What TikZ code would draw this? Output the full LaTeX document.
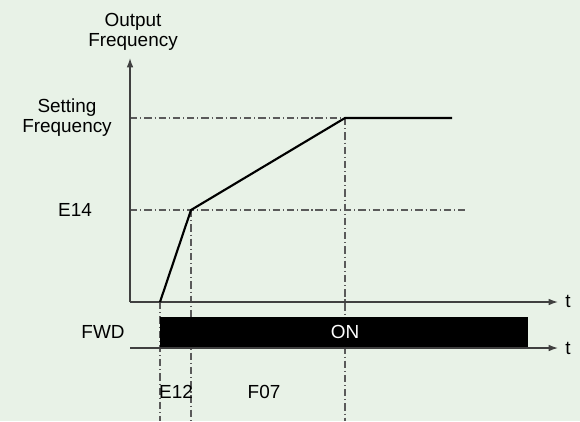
\documentclass[tikz,border=0pt]{standalone}
\usepackage{fontspec}
\setmainfont{Liberation Sans}
\usetikzlibrary{arrows.meta}
\definecolor{bg}{HTML}{E8F2E7}
\definecolor{axis}{HTML}{404040}
\definecolor{guide}{HTML}{5A5A5A}
\begin{document}
\begin{tikzpicture}[x=0.75pt,y=-0.75pt,
  lbl/.style={font=\fontsize{14.2}{15}\selectfont, inner sep=0pt, align=center},
  axisline/.style={draw=axis, line width=1pt, -{Latex[length=7pt,width=5pt]}},
  guideline/.style={draw=guide, line width=0.8pt, dash pattern=on 5.5pt off 2.2pt on 0.8pt off 2.2pt},
  curve/.style={draw=black, line width=1.6pt, line join=miter}]
\fill[bg] (0,0) rectangle (580,421);
\useasboundingbox (0,0) rectangle (580,421);
% key coordinates
\coordinate (O) at (130,302);
\coordinate (ytop) at (130,58);
\coordinate (xend) at (558,302);
\coordinate (fstart) at (130,348);
\coordinate (fend) at (558,348);
\coordinate (p0) at (160,302);
\coordinate (p1) at (191,210);
\coordinate (p2) at (345,118);
\coordinate (p3) at (452,118);
\coordinate (sfl) at (130,118);
\coordinate (e14l) at (130,210);
\coordinate (e14r) at (466,210);
\coordinate (v0b) at (160,421);
\coordinate (v1b) at (191,421);
\coordinate (v2b) at (345,421);
% guides
\draw[guideline] (sfl) -- (p2);
\draw[guideline] (e14l) -- (e14r);
\draw[guideline] (p0) -- (v0b);
\draw[guideline] (p1) -- (v1b);
\draw[guideline] (p2) -- (v2b);
% FWD bar
\node[fill=black, minimum width=368*0.75pt, minimum height=31*0.75pt, inner sep=0pt, anchor=south west] (bar) at (160,348) {};
\node[lbl, text=white] (on) at (345,332) {ON};
% axes
\draw[axisline] (O) -- (ytop);
\draw[axisline] (O) -- (xend);
\draw[axisline] (fstart) -- (fend);
% curve
\draw[curve] (p0) -- (p1) -- (p2) -- (p3);
% labels
\node[lbl] (outf) at (133,32) {Output\\Frequency};
\node[lbl] (setf) at (67,118) {Setting\\Frequency};
\node[lbl] (e14) at (75,210) {E14};
\node[lbl] (fwd) at (103,332) {FWD};
\node[lbl] (t1) at (568,301) {t};
\node[lbl] (t2) at (568,348) {t};
\node[lbl] (e12) at (176,392) {E12};
\node[lbl] (f07) at (264,392) {F07};
\end{tikzpicture}
\end{document}
